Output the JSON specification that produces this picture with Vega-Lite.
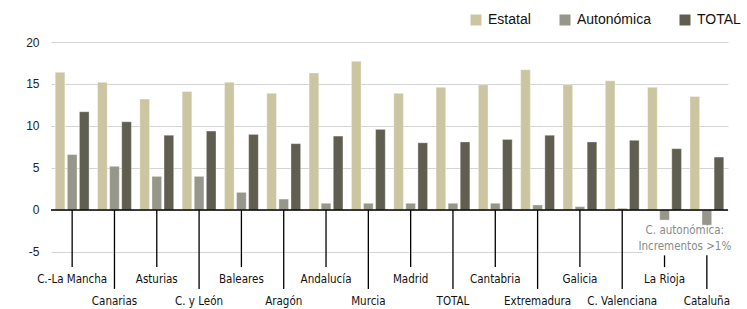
{
  "$schema": "https://vega.github.io/schema/vega-lite/v6.json",
  "autosize": {"type": "none"},
  "width": 677,
  "height": 265,
  "padding": {"left": 51, "top": 42, "right": 19, "bottom": 2},
  "background": "white",
  "config": {"view": {"stroke": null}, "font": "Liberation Sans"},
  "data": {"values": [
    {"region": "C.-La Mancha", "Estatal": 16.4, "Autonómica": 6.6, "TOTAL": 11.7},
    {"region": "Canarias", "Estatal": 15.2, "Autonómica": 5.2, "TOTAL": 10.5},
    {"region": "Asturias", "Estatal": 13.2, "Autonómica": 4.0, "TOTAL": 8.9},
    {"region": "C. y León", "Estatal": 14.1, "Autonómica": 4.0, "TOTAL": 9.4},
    {"region": "Baleares", "Estatal": 15.2, "Autonómica": 2.1, "TOTAL": 9.0},
    {"region": "Aragón", "Estatal": 13.9, "Autonómica": 1.3, "TOTAL": 7.9},
    {"region": "Andalucía", "Estatal": 16.3, "Autonómica": 0.8, "TOTAL": 8.8},
    {"region": "Murcia", "Estatal": 17.7, "Autonómica": 0.8, "TOTAL": 9.6},
    {"region": "Madrid", "Estatal": 13.9, "Autonómica": 0.8, "TOTAL": 8.0},
    {"region": "TOTAL", "Estatal": 14.6, "Autonómica": 0.8, "TOTAL": 8.1},
    {"region": "Cantabria", "Estatal": 14.9, "Autonómica": 0.8, "TOTAL": 8.4},
    {"region": "Extremadura", "Estatal": 16.7, "Autonómica": 0.6, "TOTAL": 8.9},
    {"region": "Galicia", "Estatal": 14.9, "Autonómica": 0.4, "TOTAL": 8.1},
    {"region": "C. Valenciana", "Estatal": 15.4, "Autonómica": 0.2, "TOTAL": 8.3},
    {"region": "La Rioja", "Estatal": 14.6, "Autonómica": -1.2, "TOTAL": 7.3},
    {"region": "Cataluña", "Estatal": 13.5, "Autonómica": -1.8, "TOTAL": 6.3}
  ]},
  "layer": [
    {
      "transform": [{"fold": ["Estatal", "Autonómica", "TOTAL"], "as": ["serie", "valor"]}],
      "mark": {"type": "bar", "stroke": "white", "strokeOpacity": 0.35, "strokeWidth": 1},
      "encoding": {
        "x": {"field": "region", "type": "nominal", "sort": null, "axis": null,
              "scale": {"paddingInner": 0.2, "paddingOuter": 0.1}},
        "xOffset": {"field": "serie", "type": "nominal", "sort": ["Estatal", "Autonómica", "TOTAL"],
                    "scale": {"paddingInner": 0.2, "paddingOuter": 0}},
        "y": {"field": "valor", "type": "quantitative",
              "scale": {"domain": [-11.55, 20], "nice": false, "zero": false},
              "axis": {"values": [-5, 0, 5, 10, 15, 20], "title": null, "domain": false, "ticks": false,
                       "tickSize": 0, "labelPadding": 12, "labelFontSize": 12, "labelColor": "#222222",
                       "labelExpr": "'' + datum.value",
                       "gridColor": "#d4d4d4", "gridWidth": 1}},
        "color": {"field": "serie", "type": "nominal",
                  "scale": {"domain": ["Estatal", "Autonómica", "TOTAL"], "range": ["#cbc6a1", "#97968a", "#605e50"]},
                  "legend": {"title": null, "orient": "none", "direction": "horizontal", "legendX": 418, "legendY": -29,
                             "symbolType": "square", "symbolSize": 121, "symbolStrokeWidth": 0,
                             "labelFontSize": 14, "labelColor": "#111111", "labelOffset": 5, "columnPadding": 27}}
      }
    },
    {
      "transform": [{"filter": {"field": "region", "oneOf": ["La Rioja", "Cataluña"]}}],
      "mark": {"type": "bar", "color": "white", "width": {"band": 1.3}},
      "encoding": {
        "x": {"field": "region", "type": "nominal", "sort": null},
        "y": {"datum": -1.95},
        "y2": {"datum": -5.4}
      }
    },
    {
      "data": {"values": [{}]},
      "mark": {"type": "rule", "color": "black", "strokeWidth": 1.5},
      "encoding": {"y": {"datum": 0}}
    },
    {
      "transform": [{"filter": {"field": "region", "oneOf": ["C.-La Mancha", "Asturias", "Baleares", "Andalucía", "Madrid", "Cantabria", "Galicia"]}}],
      "mark": {"type": "rule", "color": "black", "strokeWidth": 1.3},
      "encoding": {"x": {"field": "region", "type": "nominal", "sort": null}, "y": {"datum": 0}, "y2": {"datum": -6.8}}
    },
    {
      "transform": [{"filter": {"field": "region", "oneOf": ["Canarias", "C. y León", "Aragón", "Murcia", "TOTAL", "Extremadura", "C. Valenciana"]}}],
      "mark": {"type": "rule", "color": "black", "strokeWidth": 1.3},
      "encoding": {"x": {"field": "region", "type": "nominal", "sort": null}, "y": {"datum": 0}, "y2": {"datum": -9.4}}
    },
    {
      "transform": [{"filter": {"field": "region", "oneOf": ["La Rioja"]}}],
      "mark": {"type": "rule", "color": "black", "strokeWidth": 1.3},
      "encoding": {"x": {"field": "region", "type": "nominal", "sort": null}, "y": {"datum": -5.4}, "y2": {"datum": -6.8}}
    },
    {
      "transform": [{"filter": {"field": "region", "oneOf": ["Cataluña"]}}],
      "mark": {"type": "rule", "color": "black", "strokeWidth": 1.3},
      "encoding": {"x": {"field": "region", "type": "nominal", "sort": null}, "y": {"datum": -5.4}, "y2": {"datum": -9.4}}
    },
    {
      "transform": [{"filter": {"field": "region", "oneOf": ["C.-La Mancha", "Asturias", "Baleares", "Andalucía", "Madrid", "Cantabria", "Galicia", "La Rioja"]}}],
      "mark": {"type": "text", "font": "DejaVu Sans Condensed", "fontSize": 11.5, "color": "#111111", "baseline": "middle"},
      "encoding": {"x": {"field": "region", "type": "nominal", "sort": null}, "y": {"datum": -8.33}, "text": {"field": "region"}}
    },
    {
      "transform": [{"filter": {"field": "region", "oneOf": ["Canarias", "C. y León", "Aragón", "Murcia", "TOTAL", "Extremadura", "C. Valenciana", "Cataluña"]}}],
      "mark": {"type": "text", "font": "DejaVu Sans Condensed", "fontSize": 11.5, "color": "#111111", "baseline": "middle"},
      "encoding": {"x": {"field": "region", "type": "nominal", "sort": null}, "y": {"datum": -10.92}, "text": {"field": "region"}}
    },
    {
      "data": {"values": [{"region": "La Rioja", "nota": ["C. autonómica:", "Incrementos >1%"]}]},
      "mark": {"type": "text", "font": "DejaVu Sans Condensed", "fontSize": 11.5, "color": "#8a8a8a", "baseline": "middle", "lineHeight": 16},
      "encoding": {"x": {"field": "region", "type": "nominal", "sort": null, "bandPosition": 1.1}, "y": {"datum": -2.5}, "text": {"field": "nota"}}
    }
  ]
}
